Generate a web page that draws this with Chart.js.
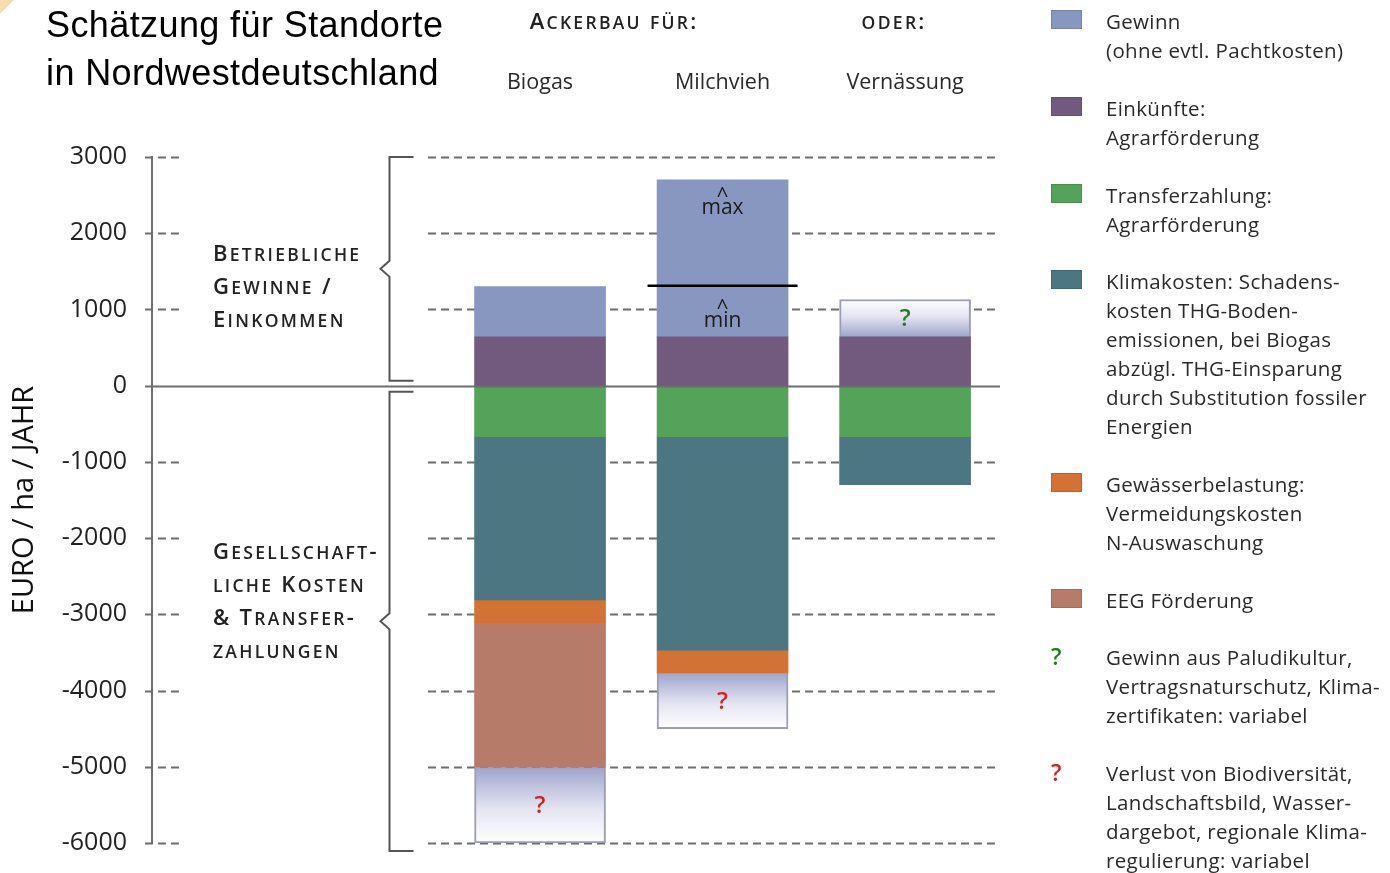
<!DOCTYPE html>
<html lang="de">
<head>
<meta charset="utf-8">
<title>Schätzung für Standorte in Nordwestdeutschland</title>
<script src="https://cdn.jsdelivr.net/npm/chart.js@4.4.1/dist/chart.umd.min.js"></script>
<style>
  html, body { margin: 0; padding: 0; background: #fff; overflow: hidden; }
  #wrap { position: relative; width: 1390px; height: 873px; overflow: hidden; }
  #chart { position: absolute; left: 0; top: 0; }
  .title { position: absolute; left: 46px; top: 1px; font: 36px "Liberation Sans", Arial, sans-serif; letter-spacing: 0.4px; line-height: 48px; color: #000; }
  .legend-item { position: absolute; left: 1051px; width: 339px; }
  .swatch { position: absolute; left: 0; top: 3px; width: 31px; height: 19px; box-sizing: border-box; }
  .qmark { position: absolute; left: 0; top: -3px; font: 600 23px "Open Sans"; }
  .legend-text { position: absolute; left: 55px; top: 0; font: 20.5px "Open Sans"; letter-spacing: 0.35px; line-height: 29px; color: #2a2a2a; white-space: nowrap; }
</style>
</head>
<body>
<div id="wrap">
  <canvas id="chart" width="1390" height="883"></canvas>
  <div class="title">Schätzung für Standorte<br>in Nordwestdeutschland</div>
  <div id="legend"></div>
</div>
<script>
// --- Daten (EURO / ha / Jahr) ---
const categories = ['Biogas', 'Milchvieh', 'Vernässung'];
const yTicks = [3000, 2000, 1000, 0, -1000, -2000, -3000, -4000, -5000, -6000];

const einkuenfte = [640, 640, 640];        // Einkünfte: Agrarförderung
const gewinn = [660, 2060, null];           // Gewinn (ohne evtl. Pachtkosten)
const gewinnPaludi = [null, null, 490];     // ? Gewinn aus Paludikultur ...
const transfer = [-670, -670, -670];        // Transferzahlung: Agrarförderung
const klimakosten = [-2140, -2800, -630];
const gewaesser = [-300, -300, null];
const eegFoerderung = [-1900, null, null];
const verlustBiodiv = [-990, -730, null];   // ? Verlust von Biodiversität ...
const milchGewinnMin = 1310;                // Linie zwischen min und max

const colors = {
    gewinn: '#8797bf',
    einkuenfte: '#725a7f',
    transfer: '#55a35b',
    klima: '#4b7682',
    gewaesser: '#d47236',
    eeg: '#b77c69',
    unklarRand: '#9a9db8',
    grau: '#6e6e6e',
    text: '#222'
};

const legendEntries = [
    { top: 21, color: colors.gewinn, lines: ['Gewinn', '(ohne evtl. Pachtkosten)'] },
    { top: 108, color: colors.einkuenfte, lines: ['Einkünfte:', 'Agrarförderung'] },
    { top: 195, color: colors.transfer, lines: ['Transferzahlung:', 'Agrarförderung'] },
    { top: 281, color: colors.klima, lines: ['Klimakosten: Schadens-', 'kosten THG-Boden-', 'emissionen, bei Biogas', 'abzügl. THG-Einsparung', 'durch Substitution fossiler', 'Energien'] },
    { top: 484, color: colors.gewaesser, lines: ['Gewässerbelastung:', 'Vermeidungskosten', 'N-Auswaschung'] },
    { top: 600, color: colors.eeg, lines: ['EEG Förderung'] },
    { top: 657, mark: '#1d7d24', lines: ['Gewinn aus Paludikultur,', 'Vertragsnaturschutz, Klima-', 'zertifikaten: variabel'] },
    { top: 773, mark: '#d52020', lines: ['Verlust von Biodiversität,', 'Landschaftsbild, Wasser-', 'dargebot, regionale Klima-', 'regulierung: variabel'] }
];

// legend
const legendEl = document.getElementById('legend');
legendEntries.forEach(e => {
    const item = document.createElement('div');
    item.className = 'legend-item';
    item.style.top = (e.top - 14.5) + 'px';
    const marker = e.mark
        ? `<span class="qmark" style="color:${e.mark}">?</span>`
        : `<span class="swatch" style="background:${e.color};border:1px solid rgba(0,0,0,0.12)"></span>`;
    item.innerHTML = marker + `<div class="legend-text">${e.lines.join('<br>')}</div>`;
    legendEl.appendChild(item);
});

function points(values) {
    return values.map((v, i) => ({ x: i, y: v }));
}

// gradient for the "?" segments: lavender at the base, white at the end
function fadeFill(ctx) {
    const chart = ctx.chart;
    if (ctx.type !== 'data' || !chart.chartArea || !chart.scales.y) return '#c9cce3';
    const ds = chart.data.datasets;
    const v = ds[ctx.datasetIndex].data[ctx.dataIndex].y;
    if (v == null) return '#c9cce3';
    let base = 0;
    for (let k = 0; k < ctx.datasetIndex; k++) {
        const w = ds[k].data[ctx.dataIndex].y;
        if (w != null && Math.sign(w) === Math.sign(v)) base += w;
    }
    const y = chart.scales.y;
    const p0 = y.getPixelForValue(base), p1 = y.getPixelForValue(base + v);
    const g = chart.ctx.createLinearGradient(0, p0, 0, p1);
    g.addColorStop(0, '#9ea5cc');
    g.addColorStop(0.55, '#e4e5f1');
    g.addColorStop(1, '#ffffff');
    return g;
}

function bar(label, values, color, extra) {
    return Object.assign({
        label, data: points(values), backgroundColor: color,
        borderWidth: 0, barThickness: 131
    }, extra || {});
}

// small caps by hand: upper-case letters big, lower-case as smaller capitals
function smallCapsText(c, text, x, y, align) {
    const big = '600 22px "Open Sans"', small = '600 17.5px "Open Sans"', gap = 2.3;
    const parts = [...text].map(ch => {
        const isLower = ch !== ch.toUpperCase();
        c.font = isLower ? small : big;
        const s = ch.toUpperCase();
        return { s, font: c.font, w: c.measureText(s).width + gap };
    });
    const total = parts.reduce((a, p) => a + p.w, 0) - gap;
    let cx = align === 'center' ? x - total / 2 : x;
    c.textAlign = 'left';
    c.textBaseline = 'alphabetic';
    parts.forEach(p => { c.font = p.font; c.fillText(p.s, cx, y + 8); cx += p.w; });
}

const decor = {
    id: 'decor',
    beforeDatasetsDraw(chart) {
        const c = chart.ctx, y = chart.scales.y, area = chart.chartArea;
        c.save();
        c.strokeStyle = colors.grau;
        c.lineWidth = 2;
        c.setLineDash([8, 5]);
        yTicks.forEach(t => {
            if (t === 0) return;
            const py = Math.round(y.getPixelForValue(t)) + 0.5;
            c.beginPath(); c.moveTo(area.left - 7, py); c.lineTo(area.left + 30, py); c.stroke();
            c.beginPath(); c.moveTo(area.left + 276, py); c.lineTo(area.right, py); c.stroke();
        });
        c.restore();
    },
    afterDatasetsDraw(chart) {
        const c = chart.ctx, y = chart.scales.y, area = chart.chartArea;
        c.save();
        // zero line
        const y0 = Math.round(y.getPixelForValue(0)) + 0.5;
        c.strokeStyle = colors.grau; c.lineWidth = 2;
        c.beginPath(); c.moveTo(area.left - 7, y0); c.lineTo(area.right, y0); c.stroke();

        // question marks in the unknown segments
        c.textAlign = 'center'; c.textBaseline = 'middle';
        c.font = '600 24px "Open Sans"';
        [[2, '#1d7d24'], [7, '#d52020']].forEach(([di, col]) => {
            chart.getDatasetMeta(di).data.forEach((el, i) => {
                if (chart.data.datasets[di].data[i].y == null) return;
                c.fillStyle = col;
                c.fillText('?', el.x, (el.y + el.base) / 2 + 1);
            });
        });

        // min / max for Milchvieh
        const m = chart.getDatasetMeta(1).data[1];
        const yMin = y.getPixelForValue(milchGewinnMin);
        c.strokeStyle = '#000'; c.lineWidth = 2.5;
        c.beginPath(); c.moveTo(m.x - 75, yMin); c.lineTo(m.x + 75, yMin); c.stroke();
        c.fillStyle = '#1a1a1a';
        c.font = '21px "Open Sans"';
        c.fillText('^', m.x, m.y + 17);
        c.fillText('max', m.x, m.y + 28);
        c.fillText('^', m.x, yMin + 23);
        c.fillText('min', m.x, yMin + 35);
        c.restore();
    },
    afterDraw(chart) {
        const c = chart.ctx, y = chart.scales.y, x = chart.scales.x;
        c.save();
        // small corner mark
        c.fillStyle = '#f7dcb0';
        c.beginPath(); c.moveTo(0, 0); c.lineTo(14, 0); c.lineTo(0, 14); c.closePath(); c.fill();

        // braces
        const bx = 389.5;
        c.strokeStyle = '#555'; c.lineWidth = 2; c.setLineDash([]);
        const brace = (top, bottom) => {
            const mid = (top + bottom) / 2;
            c.beginPath();
            c.moveTo(bx + 24, top); c.lineTo(bx, top); c.lineTo(bx, mid - 8);
            c.lineTo(bx - 9, mid); c.lineTo(bx, mid + 8); c.lineTo(bx, bottom); c.lineTo(bx + 24, bottom);
            c.stroke();
        };
        const y0 = y.getPixelForValue(0);
        brace(y.getPixelForValue(3000), y0 - 5);
        brace(y0 + 6, y.getPixelForValue(-6000) + 8);

        // brace labels
        c.fillStyle = colors.text;
        ['Betriebliche', 'Gewinne /', 'Einkommen'].forEach((t, i) => smallCapsText(c, t, 213, y0 - 133 + i * 33, 'left'));
        ['Gesellschaft-', 'liche Kosten', '& Transfer-', 'zahlungen'].forEach((t, i) => smallCapsText(c, t, 213, y0 + 165 + i * 33, 'left'));

        // headers
        smallCapsText(c, 'Ackerbau für:', 613, 21, 'center');
        smallCapsText(c, 'oder:', 893, 21, 'center');

        // category labels
        c.textAlign = 'center'; c.textBaseline = 'middle';
        c.font = '21.5px "Open Sans"';
        c.fillStyle = '#2a2a2a';
        categories.forEach((cat, i) => c.fillText(cat, x.getPixelForValue(i), 83));
        c.restore();
    }
};

new Chart(document.getElementById('chart'), {
    type: 'bar',
    data: {
        datasets: [
            bar('Einkünfte: Agrarförderung', einkuenfte, colors.einkuenfte),
            bar('Gewinn (ohne evtl. Pachtkosten)', gewinn, colors.gewinn),
            bar('Gewinn aus Paludikultur, Vertragsnaturschutz, Klimazertifikaten: variabel', gewinnPaludi, fadeFill,
                { borderWidth: 2, borderColor: colors.unklarRand }),
            bar('Transferzahlung: Agrarförderung', transfer, colors.transfer),
            bar('Klimakosten', klimakosten, colors.klima),
            bar('Gewässerbelastung', gewaesser, colors.gewaesser),
            bar('EEG Förderung', eegFoerderung, colors.eeg),
            bar('Verlust von Biodiversität, Landschaftsbild, Wasserdargebot, regionale Klimaregulierung: variabel', verlustBiodiv, fadeFill,
                { borderWidth: 2, borderColor: colors.unklarRand })
        ]
    },
    options: {
        responsive: false,
        animation: false,
        layout: { autoPadding: false, padding: { top: 157, bottom: 30, left: 0, right: 390 } },
        plugins: { legend: { display: false }, tooltip: { enabled: false } },
        scales: {
            x: {
                type: 'linear', stacked: true, display: false, offset: false,
                grid: { offset: false },
                min: -2.126, max: 2.52
            },
            y: {
                stacked: true, min: -6000, max: 3000,
                afterFit: s => { s.width = 152; },
                afterBuildTicks: s => { s.ticks = yTicks.map(v => ({ value: v })); },
                grid: { display: false, drawTicks: false },
                border: { display: true, color: colors.grau, width: 2 },
                ticks: {
                    padding: 25, color: colors.text,
                    font: { family: 'Open Sans', size: 25 },
                    callback: v => String(v)
                },
                title: {
                    display: true, text: 'EURO / ha / JAHR', color: '#111',
                    font: { family: 'Open Sans', size: 29 },
                    padding: { top: 7, bottom: 0 }
                }
            }
        }
    },
    plugins: [decor]
});
</script>
</body>
</html>
